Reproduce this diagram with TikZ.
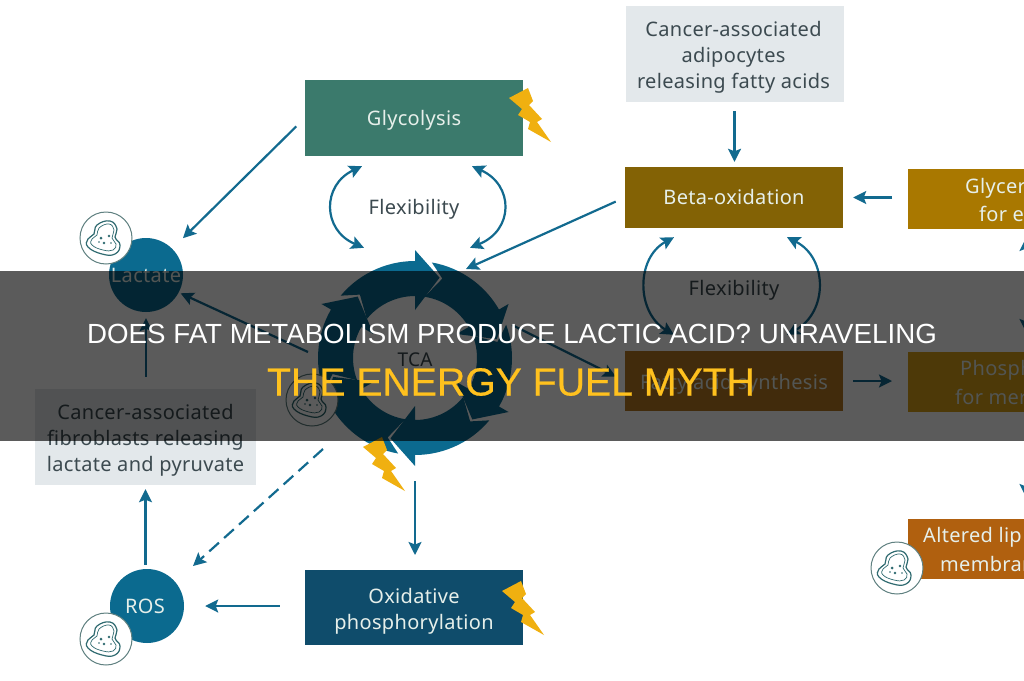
\documentclass[tikz,border=0pt]{standalone}
\usepackage{fontspec}
\setmainfont[LetterSpace=1.6]{Noto Sans}
\newfontfamily\titlefont{Liberation Sans}
\newfontfamily\titlefontheavy[FakeBold=0.5]{Liberation Sans}
\usetikzlibrary{arrows.meta,calc}
\definecolor{teal1}{HTML}{126A8F}
\definecolor{ringblue}{HTML}{0B6A8F}
\definecolor{glycgreen}{HTML}{3B7A6C}
\definecolor{betabrown}{HTML}{836205}
\definecolor{glyceramber}{HTML}{A97800}
\definecolor{fattybrown}{HTML}{B87A24}
\definecolor{phosamber}{HTML}{D9A018}
\definecolor{alteredbrown}{HTML}{B0600F}
\definecolor{oxblue}{HTML}{0F4C6B}
\definecolor{paleblue}{HTML}{E3E8EB}
\definecolor{inktext}{HTML}{3C4A50}
\definecolor{paletext}{HTML}{E6EFEA}
\definecolor{boltgold}{HTML}{F0B010}
\definecolor{celledge}{HTML}{5F8080}
\definecolor{cellink}{HTML}{2F6A70}
\definecolor{titlegold}{HTML}{FFC11E}
\tikzset{
  x=1pt,y=-1pt,
  labeltext/.style={font=\fontsize{20}{26}\selectfont,align=center,inner sep=0pt},
  boxnode/.style={rectangle,inner sep=0pt,minimum height=60pt,minimum width=218pt},
  roundnode/.style={circle,fill=ringblue,minimum size=74pt,inner sep=0pt},
  link/.style={draw=teal1,line width=2.2pt,-{Stealth[length=13pt,width=13pt,inset=2.5pt]}},
  bilink/.style={draw=teal1,line width=2.2pt,{Stealth[length=13pt,width=13pt,inset=2.5pt]}-{Stealth[length=13pt,width=13pt,inset=2.5pt]}},
  cell/.pic={
    \draw[celledge,fill=white,line width=1pt] (0,0) circle[radius=26];
    \draw[cellink,line width=1.2pt,fill=white] plot[smooth cycle,tension=.8] coordinates{(-9,-13)(4,-17)(11,-9)(9,-1)(14,7)(9,16)(-4,16)(-18,9)(-18,1)(-12,-4)};
    \draw[cellink,line width=.7pt] plot[smooth cycle,tension=.8] coordinates{(-7,-10)(3,-14)(8,-8)(6,0)(10,6)(7,12)(-3,12)(-14,7)(-14,1)(-9,-3)};
    \fill[cellink] (-5,0) circle[radius=1.5] (3,-2) circle[radius=1.3] (-2,5) circle[radius=1.3] (5,5) circle[radius=.9] (-7,4) circle[radius=.9];
  },
  bolt/.pic={
    \fill[boltgold] (0,0)--(19,-10)--(24,3)--(20,7)--(33,21)--(28,24)--(42,44)--(19,31)--(21,24)--(9,17)--(13,11)--cycle;
  },
}
% One curved arrow of the cycle; the argument is the angle of its head, clockwise from the top.
\newcommand{\cyclearrow}[1]{%
  \fill[ringblue]
    plot[domain=#1-50:#1,samples=16] ({97*sin(\x)},{-97*cos(\x)})
    -- ({108*sin(#1)},{-108*cos(#1)})
    -- ({84*sin(#1+17)},{-84*cos(#1+17)})
    -- ({48*sin(#1)},{-48*cos(#1)})
    -- plot[domain=#1:#1-51,samples=16] ({62*sin(\x)},{-62*cos(\x)})
    -- ({84*sin(#1-41)},{-84*cos(#1-41)}) -- cycle;}
\begin{document}
\begin{tikzpicture}
\useasboundingbox (0,0) rectangle (1024,680);
\clip (0,0) rectangle (1024,680);
\fill[white] (0,0) rectangle (1024,680);

% Metabolic cycle
\begin{scope}[shift={(415,358)}]
  \foreach \h in {0,60,120,180,240,300} {\cyclearrow{\h}}
\end{scope}
\node[circle,minimum size=194pt,inner sep=0pt] (tca) at (415,358) {};
\node[font=\fontsize{19}{24}\selectfont,text=inktext,inner sep=0pt] (tcalabel) at (415,360) {TCA};

% Boxes
\node[boxnode,fill=glycgreen,minimum height=76pt] (glyc) at (414,118) {};
\node[boxnode,fill=paleblue,minimum height=96pt] (caa) at (734.5,54) {};
\node[boxnode,fill=betabrown,minimum height=61pt] (beta) at (734,197.5) {};
\node[boxnode,fill=fattybrown] (fatty) at (734,381) {};
\node[boxnode,fill=oxblue,minimum height=75pt] (ox) at (414,607.5) {};
\node[boxnode,fill=paleblue,minimum width=221pt,minimum height=96pt] (caf) at (145.5,437) {};
\node[boxnode,fill=glyceramber,minimum width=130pt,anchor=west] (glycer) at (908,199) {};
\node[boxnode,fill=phosamber,minimum width=130pt,anchor=west] (phos) at (908,382) {};
\node[boxnode,fill=alteredbrown,minimum width=130pt,anchor=west] (altered) at (908,548.5) {};

% Box labels
\node[labeltext,text=paletext] (glyctext) at (414,120) {Glycolysis};
\node[labeltext,text=inktext] (caatext) at (733.5,57) {Cancer-associated\\adipocytes\\releasing fatty acids};
\node[labeltext,text=paletext] (betatext) at (734,197) {Beta-oxidation};
\node[labeltext,text=paletext] (fattytext) at (734,384) {Fatty acid synthesis};
\node[labeltext,text=paletext] (oxtext) at (414,611) {Oxidative\\phosphorylation};
\node[labeltext,text=inktext] (caftext) at (145.5,440) {Cancer-associated\\fibroblasts releasing\\lactate and pyruvate};
\node[labeltext,text=paletext,anchor=west] (glycerA) at (965,188) {Glycer};
\node[labeltext,text=paletext,anchor=west] (glycerB) at (979,214) {for er};
\node[labeltext,text=paletext,anchor=west] (phosA) at (960,370) {Phosph};
\node[labeltext,text=paletext,anchor=west] (phosB) at (955,397) {for mer};
\node[labeltext,text=paletext,anchor=west] (alteredA) at (923,537) {Altered lip};
\node[labeltext,text=paletext,anchor=west] (alteredB) at (940,564) {membran};

% Round nodes
\node[roundnode] (lact) at (146,275) {};
\node[roundnode] (ros) at (147,606) {};
\node[labeltext,text=paletext] (lacttext) at (146,275) {Lactate};
\node[labeltext,text=paletext] (rostext) at (145,606) {ROS};
\node[labeltext,text=inktext] (flexA) at (414,209) {Flexibility};
\node[labeltext,text=inktext] (flexB) at (734,290) {Flexibility};

% Free ends of the curved links
\coordinate (fa1) at ($(glyc.south)+(-52,10)$);
\coordinate (fa2) at ($(tca.north)+(-51,-13)$);
\coordinate (fa3) at ($(glyc.south)+(58,10)$);
\coordinate (fa4) at ($(tca.north)+(55,-13)$);
\coordinate (fb1) at ($(beta.south)+(-60,9)$);
\coordinate (fb2) at ($(fatty.north)+(-60,-16)$);
\coordinate (fb3) at ($(beta.south)+(53,9)$);
\coordinate (fb4) at ($(fatty.north)+(53,-16)$);

% Links
\draw[link,shorten <=12pt,shorten >=15pt] (glyc.west) -- (lact.45);
\draw[bilink] (fa1) .. controls (322,185) and (322,230) .. (fa2);
\draw[bilink] (fa3) .. controls (514,185) and (514,230) .. (fa4);
\draw[bilink] (fb1) .. controls (636,258) and (636,312) .. (fb2);
\draw[bilink] (fb3) .. controls (828,258) and (828,312) .. (fb4);
\draw[link,shorten <=9pt,shorten >=5pt] (caa.south) -- (caa.south |- beta.north);
\draw[link,shorten <=16pt,shorten >=10pt] (glycer.west |- beta.east) -- (beta.east);
\draw[link,shorten <=10pt,shorten >=16pt] (fatty.east) -- (phos.west |- fatty.east);
\draw[link,shorten <=10pt] (beta.west) -- (466,269);
\draw[link,shorten >=10pt] (512,325) -- (fatty.west);
\draw[link,shorten >=2pt] (308,352) -- (lact.-28);
\draw[link,shorten <=12pt,shorten >=6pt] (caf.north -| lact.south) -- (lact.south);
\draw[link,shorten <=4pt,shorten >=4pt] (ros.north -| caf.south) -- (caf.south);
\draw[link,dash pattern=on 13pt off 7pt] (323,449) -- (193,566);
\draw[link,shorten <=25pt,shorten >=21pt] (ox.west |- ros.east) -- (ros.east);
\draw[link,shorten <=3pt,shorten >=15pt] (415,478) -- (415,570);
\draw[link] (1026,282) -- (1026,238);
\draw[link] (1026,290) -- (1026,332);
\draw[link] (1026,460) -- (1026,497);

% Cell badges and energy marks
\pic at (106,238) {cell};
\pic at (106,639) {cell};
\pic at (897,568) {cell};
\pic at (312,400) {cell};
\pic at (509,98) {bolt};
\pic at (363,447) {bolt};
\pic at (502,591) {bolt};

% Title band
\fill[black,opacity=.645] (0,271) rectangle (1024,441);
\node[text=white,font=\titlefont\fontsize{27.7}{32}\selectfont,inner sep=0pt] (titleA) at (512,334) {DOES FAT METABOLISM PRODUCE LACTIC ACID? UNRAVELING};
\node[text=titlegold,font=\titlefontheavy\fontsize{39.2}{44}\selectfont,inner sep=0pt] (titleB) at (511,382) {THE ENERGY FUEL MYTH};
\end{tikzpicture}
\end{document}
